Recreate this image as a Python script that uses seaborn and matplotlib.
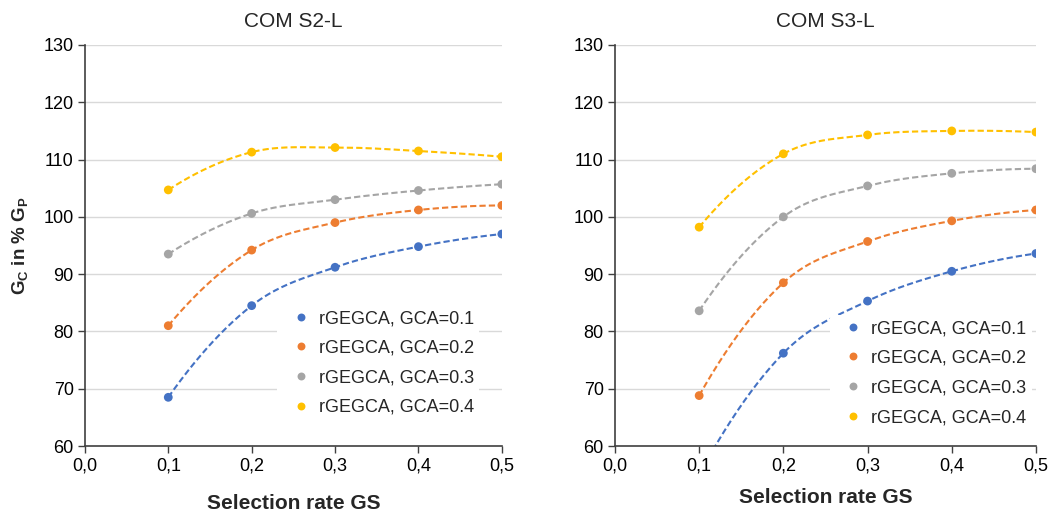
import numpy as np
import pandas as pd
import matplotlib
matplotlib.use("Agg")
import matplotlib.pyplot as plt
import seaborn as sns
from matplotlib.ticker import FuncFormatter

gs_rate = [0.1, 0.2, 0.3, 0.4, 0.5]
series = ["rGEGCA, GCA=0.1", "rGEGCA, GCA=0.2", "rGEGCA, GCA=0.3", "rGEGCA, GCA=0.4"]
colors = ["#4472C4", "#ED7D31", "#A5A5A5", "#FFC000"]

s2_gca1 = [68.5, 84.5, 91.2, 94.8, 97.0]
s2_gca2 = [81.0, 94.2, 99.0, 101.2, 102.0]
s2_gca3 = [93.5, 100.6, 103.0, 104.6, 105.7]
s2_gca4 = [104.7, 111.3, 112.1, 111.5, 110.5]

s3_gca1 = [55.0, 76.2, 85.3, 90.5, 93.6]
s3_gca2 = [68.8, 88.5, 95.7, 99.3, 101.2]
s3_gca3 = [83.6, 100.0, 105.4, 107.6, 108.4]
s3_gca4 = [98.2, 111.0, 114.3, 115.0, 114.8]

panels = {
    "COM S2-L": [s2_gca1, s2_gca2, s2_gca3, s2_gca4],
    "COM S3-L": [s3_gca1, s3_gca2, s3_gca3, s3_gca4],
}


def smooth(x, y, n=40):
    # excel-like smoothed line (catmull-rom as bezier), quadratic phantom ends
    p = np.column_stack([x, y]).astype(float)
    start = 3 * p[0] - 3 * p[1] + p[2]
    end = 3 * p[-1] - 3 * p[-2] + p[-3]
    q = np.vstack([start, p, end])
    out = []
    for i in range(1, len(q) - 2):
        p0, p1, p2, p3 = q[i - 1], q[i], q[i + 1], q[i + 2]
        c1 = p1 + (p2 - p0) / 6
        c2 = p2 - (p3 - p1) / 6
        t = np.linspace(0, 1, n)[:, None]
        seg = ((1 - t) ** 3) * p1 + 3 * ((1 - t) ** 2) * t * c1 + 3 * (1 - t) * t ** 2 * c2 + t ** 3 * p2
        out.append(seg)
    out = np.vstack(out)
    return out[:, 0], out[:, 1]


sns.set_theme(style="white")
plt.rcParams["font.family"] = ["Liberation Sans", "DejaVu Sans"]
plt.rcParams["mathtext.fontset"] = "custom"
plt.rcParams["mathtext.bf"] = "Liberation Sans:bold"
plt.rcParams["mathtext.rm"] = "Liberation Sans"

fig = plt.figure(figsize=(10.61, 5.13), dpi=100)
ax_pos = [[0.080, 0.1306, 0.393, 0.7817], [0.5796, 0.1306, 0.3968, 0.7817]]
legend_pos = [(0.968, 0.375), (1.012, 0.35)]

for k, (title, vals) in enumerate(panels.items()):
    ax = fig.add_axes(ax_pos[k])
    rows = []
    for name, v in zip(series, vals):
        for xx, yy in zip(gs_rate, v):
            rows.append({"GS": xx, "Gc": yy, "series": name})
    df = pd.DataFrame(rows)

    for name, v, c in zip(series, vals, colors):
        sx, sy = smooth(gs_rate, v)
        ax.plot(sx, sy, color=c, lw=1.5, dashes=(3, 1.5), zorder=2)

    sns.scatterplot(data=df, x="GS", y="Gc", hue="series", palette=colors,
                    s=40, edgecolor="none", ax=ax, zorder=3)

    ax.set_xlim(0, 0.5)
    ax.set_ylim(60, 130)
    ax.set_xticks([0, 0.1, 0.2, 0.3, 0.4, 0.5])
    ax.set_yticks(range(60, 131, 10))
    ax.xaxis.set_major_formatter(FuncFormatter(lambda v, p: f"{v:.1f}".replace(".", ",")))
    ax.grid(axis="y", color="#d9d9d9", lw=1)
    ax.set_axisbelow(True)
    for side in ["top", "right"]:
        ax.spines[side].set_visible(False)
    for side in ["left", "bottom"]:
        ax.spines[side].set_color("#404040")
        ax.spines[side].set_linewidth(1.2)
    ax.tick_params(axis="both", direction="out", length=5, width=1, color="#404040",
                   labelsize=13, labelcolor="#000000", pad=3, left=True, bottom=True)
    ax.set_title(title, fontsize=15, pad=13)
    ax.set_xlabel("Selection rate GS", fontsize=15, fontweight="bold", labelpad=14 if k == 0 else 10)
    if k == 0:
        ax.set_ylabel(r"$\mathbf{G_C}$ in % $\mathbf{G_P}$", fontsize=13.5, fontweight="bold", labelpad=10)
    else:
        ax.set_ylabel("")

    leg = ax.legend(loc="upper right", bbox_to_anchor=legend_pos[k], frameon=True, fontsize=13,
                    handletextpad=0.0, labelspacing=0.7, borderpad=0.3, markerscale=0.9)
    leg.get_frame().set_facecolor("white")
    leg.get_frame().set_edgecolor("none")
    leg.get_frame().set_alpha(1)

fig.savefig("out.png", dpi=100)
